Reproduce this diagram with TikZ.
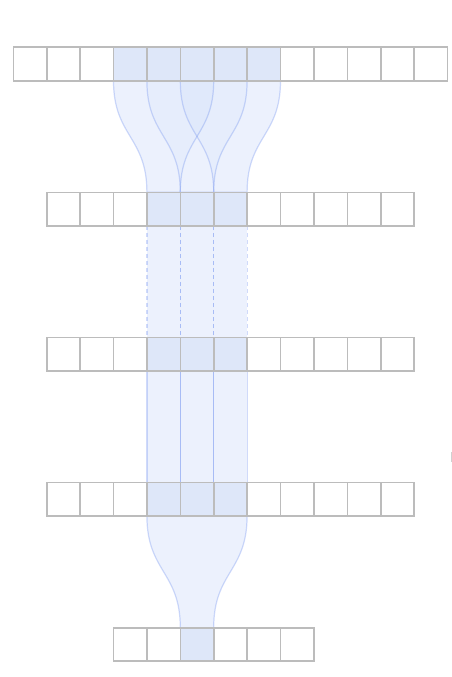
\documentclass[tikz,border=0pt]{standalone}
\usetikzlibrary{calc}
\definecolor{cellgray}{RGB}{188,188,188}
\definecolor{hlblue}{RGB}{222,231,249}
\definecolor{bandbase}{RGB}{242,246,254}
\definecolor{bandblue}{RGB}{80,130,235}
\definecolor{bandedge}{RGB}{120,150,240}
\pgfdeclarelayer{bottom}
\pgfdeclarelayer{background}
\pgfsetlayers{bottom,background,main}
\begin{document}
\begin{tikzpicture}[x=1pt,y=-1pt,
  cell/.style={draw=cellgray, line width=1.6pt, fill=white, minimum size=33.4pt, inner sep=0pt, outer sep=0pt},
  hcell/.style={cell, fill=hlblue},
  basefill/.style={fill=bandbase},
  band/.style={fill=bandblue, fill opacity=0.035, draw=bandedge, draw opacity=0.35, line width=1.2pt},
  dband/.style={band, dash pattern=on 4pt off 3pt}]
\useasboundingbox (0,0) rectangle (452,677);
% row 1
\foreach \g/\st in {0/cell,1/cell,2/cell,3/hcell,4/hcell,5/hcell,6/hcell,7/hcell,8/cell,9/cell,10/cell,11/cell,12/cell}
  \node[\st] (a\g) at ({30+33.4*\g},64) {};
% rows 2-4
\foreach \r/\y in {b/209,c/354,d/499}{
  \foreach \g/\st in {1/cell,2/cell,3/cell,4/hcell,5/hcell,6/hcell,7/cell,8/cell,9/cell,10/cell,11/cell}
    \node[\st] (\r\g) at ({30+33.4*\g},\y) {};
}
% row 5
\foreach \g/\st in {3/cell,4/cell,5/hcell,6/cell,7/cell,8/cell}
  \node[\st] (e\g) at ({30+33.4*\g},644.4) {};
\coordinate (m1) at (0,136.5);
\coordinate (m4) at (0,571.8);
% converging bands row 1 -> row 2
\foreach \k in {0,1,2}{
  \pgfmathtruncatemacro{\tl}{3+\k}
  \pgfmathtruncatemacro{\tr}{5+\k}
  \pgfmathtruncatemacro{\bt}{4+\k}
  \begin{pgfonlayer}{bottom}
  \path[basefill] (a\tl.south west) .. controls (a\tl.south west |- m1) and (b\bt.north west |- m1) .. (b\bt.north west)
    -- (b\bt.north east) .. controls (b\bt.north east |- m1) and (a\tr.south east |- m1) .. (a\tr.south east) -- cycle;
  \end{pgfonlayer}
  \begin{pgfonlayer}{background}
  \path[band] (a\tl.south west) .. controls (a\tl.south west |- m1) and (b\bt.north west |- m1) .. (b\bt.north west)
    -- (b\bt.north east) .. controls (b\bt.north east |- m1) and (a\tr.south east |- m1) .. (a\tr.south east) -- cycle;
  \end{pgfonlayer}
}
% dashed columns row 2 -> row 3, solid columns row 3 -> row 4
\foreach \g in {4,5,6}{
  \begin{pgfonlayer}{bottom}
  \path[basefill] (b\g.south west) rectangle (c\g.north east);
  \path[basefill] (c\g.south west) rectangle (d\g.north east);
  \end{pgfonlayer}
  \begin{pgfonlayer}{background}
  \path[dband] (b\g.south west) rectangle (c\g.north east);
  \path[band] (c\g.south west) rectangle (d\g.north east);
  \end{pgfonlayer}
}
% converging band row 4 -> row 5
\begin{pgfonlayer}{bottom}
\path[basefill] (d4.south west) .. controls (d4.south west |- m4) and (e5.north west |- m4) .. (e5.north west)
  -- (e5.north east) .. controls (e5.north east |- m4) and (d6.south east |- m4) .. (d6.south east) -- cycle;
\end{pgfonlayer}
\begin{pgfonlayer}{background}
\path[band] (d4.south west) .. controls (d4.south west |- m4) and (e5.north west |- m4) .. (e5.north west)
  -- (e5.north east) .. controls (e5.north east |- m4) and (d6.south east |- m4) .. (d6.south east) -- cycle;
\end{pgfonlayer}
% small mark at right edge
\draw[cellgray!70, line width=1pt] (451,452) -- (451,462);
\end{tikzpicture}
\end{document}
